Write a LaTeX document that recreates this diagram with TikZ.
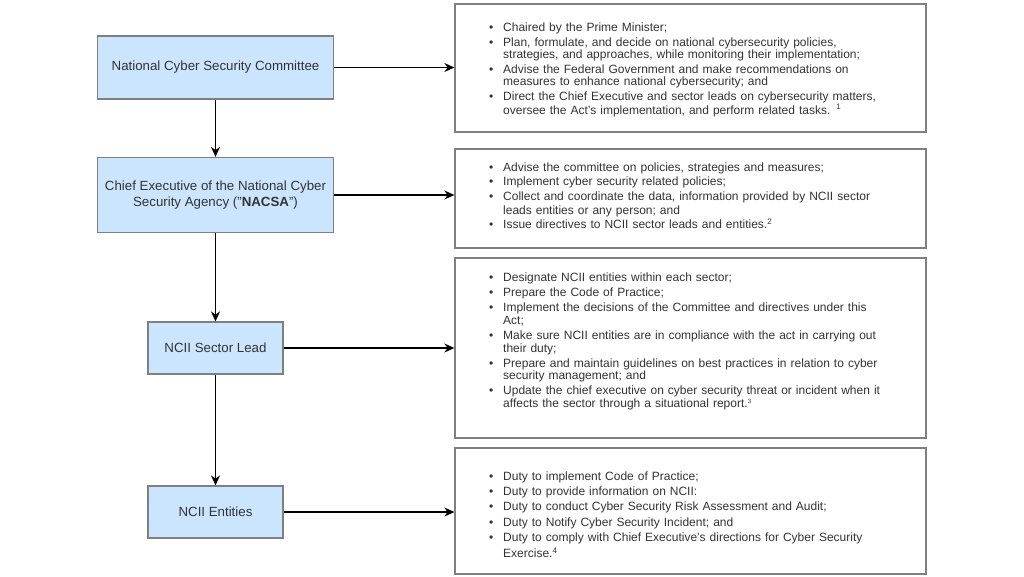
\documentclass[tikz,border=0pt]{standalone}
\usepackage{fontspec}
\setmainfont{Liberation Sans}
\usetikzlibrary{arrows.meta}
\definecolor{boxfill}{HTML}{CCE5FF}
\definecolor{boxline}{HTML}{7F7F7F}
\definecolor{txt}{HTML}{333333}
\newcommand\bl{\par\noindent\llap{\textbullet\hspace{10pt}}}
\newcommand\fr{\rule{0pt}{10pt}}
\begin{document}
\begin{tikzpicture}[x=1pt,y=-1pt,
  role/.style={draw=boxline, line width=1.2pt, fill=boxfill, text=txt,
    font=\fontsize{13.3}{15.8}\selectfont, align=center, inner sep=0pt},
  dutybox/.style={draw=boxline, line width=1.3pt, fill=white, inner sep=0pt},
  dutytext/.style={anchor=north west, inner sep=0pt, text=txt, text width=420pt, align=left},
  flow/.style={-{Stealth[length=10pt,width=9pt]}, line width=1.3pt, black}]
\useasboundingbox (0,0) rectangle (1024,576);
\fill[white] (0,0) rectangle (1024,576);

% left role boxes
\node[role, minimum width=236pt, minimum height=63pt] (b1) at (215.5,67.5) {National Cyber Security Committee};
\node[role, minimum width=236pt, minimum height=75pt] (b2) at (215.5,195) {Chief Executive of the National Cyber\\Security Agency ("\textbf{NACSA}")};
\node[role, minimum width=135pt, minimum height=52pt] (b3) at (215.5,348) {NCII Sector Lead};
\node[role, minimum width=135pt, minimum height=52pt] (b4) at (215.5,512) {NCII Entities};

% right duty boxes
\node[dutybox, minimum width=471pt, minimum height=128pt] (r1) at (690.5,68) {};
\node[dutybox, minimum width=471pt, minimum height=99pt] (r2) at (690.5,198.5) {};
\node[dutybox, minimum width=471pt, minimum height=180pt] (r3) at (690.5,348) {};
\node[dutybox, minimum width=471pt, minimum height=126pt] (r4) at (690.5,511) {};

\node[dutytext, font=\fontsize{12}{11.7}\selectfont] (t1) at (503,15.3) {\setlength\parskip{3.8pt}%
\bl\fr Chaired by the Prime Minister;
\bl Plan, formulate, and decide on national cybersecurity policies,\newline strategies, and approaches, while monitoring their implementation;
\bl Advise the Federal Government and make recommendations on\newline measures to enhance national cybersecurity; and
\bl Direct the Chief Executive and sector leads on cybersecurity matters,\newline oversee the Act's implementation, and perform related tasks. \textsuperscript{1}\par};

\node[dutytext, font=\fontsize{12}{14}\selectfont] (t2) at (503,156.2) {\setlength\parskip{0.6pt}%
\bl\fr Advise the committee on policies, strategies and measures;
\bl Implement cyber security related policies;
\bl Collect and coordinate the data, information provided by NCII sector\newline leads entities or any person; and
\bl Issue directives to NCII sector leads and entities.\textsuperscript{2}\par};

\node[dutytext, font=\fontsize{12}{12.8}\selectfont] (t3) at (503,266.2) {\setlength\parskip{2.2pt}%
\bl\fr Designate NCII entities within each sector;
\bl Prepare the Code of Practice;
\bl Implement the decisions of the Committee and directives under this\newline Act;
\bl Make sure NCII entities are in compliance with the act in carrying out\newline their duty;
\bl Prepare and maintain guidelines on best practices in relation to cyber\newline security management; and
\bl Update the chief executive on cyber security threat or incident when it\newline affects the sector through a situational report.{\fontsize{6}{6}\selectfont\raisebox{4pt}{3}}\par};

\node[dutytext, font=\fontsize{12}{15.2}\selectfont] (t4) at (503,465) {\setlength\parskip{0pt}%
\bl\fr Duty to implement Code of Practice;
\bl Duty to provide information on NCII:
\bl Duty to conduct Cyber Security Risk Assessment and Audit;
\bl Duty to Notify Cyber Security Incident; and
\bl Duty to comply with Chief Executive's directions for Cyber Security\newline\rule{0pt}{13pt}Exercise.\textsuperscript{4}\par};

% connectors
\draw[flow] (b1.south) -- (b2.north);
\draw[flow] (b2.south) -- (b3.north);
\draw[flow] (b3.south) -- (b4.north);
\draw[flow] (b1.east) -- (b1.east -| r1.west);
\draw[flow] (b2.east) -- (b2.east -| r2.west);
\draw[flow] (b3.east) -- (b3.east -| r3.west);
\draw[flow] (b4.east) -- (b4.east -| r4.west);
\end{tikzpicture}
\end{document}
